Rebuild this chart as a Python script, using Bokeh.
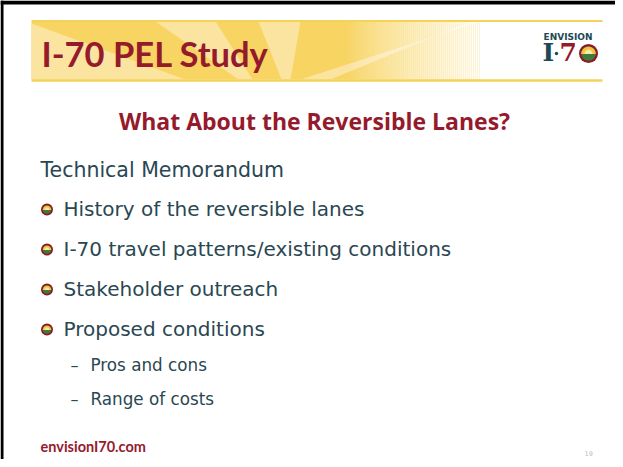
import numpy as np
from bokeh.plotting import figure
from bokeh.models import Range1d
from bokeh.core.properties import value
from bokeh.embed import file_html
from bokeh.resources import INLINE

# ---- slide content ----
title_text = ["I-70 PEL Study"]
subtitle_text = ["What About the Reversible Lanes?"]
intro_text = ["Technical Memorandum"]
bullet_texts = ["History of the reversible lanes",
                "I-70 travel patterns/existing conditions",
                "Stakeholder outreach",
                "Proposed conditions"]
sub_bullet_texts = ["Pros and cons", "Range of costs"]
footer_text = ["envisionI70.com"]
page_number = ["19"]
logo_word = ["ENVISION"]

# ---- colours ----
RED = "#951A2C"
BODY = "#2A4752"
TEAL = "#1D4955"
GOLD_DARK = "#F8D462"
GOLD_LIGHT = "#FBE4A0"
GOLD_LINE = "#F5D35A"
GREEN = "#3F7A3E"
SUN = "#F3C43F"
RING = "#8E1A26"

W, H = 615, 459

# measured vertical shift of the rendered alphabetic baseline, per font (fraction of size)
SHIFT = {"DejaVu Sans": 0.42, "DejaVu Serif": 0.42, "Lato": 0.5, "Open Sans": 0.38}

p = figure(width=W, height=H, x_range=Range1d(0, W), y_range=Range1d(H, 0),
           output_backend="svg", toolbar_location=None, min_border=0,
           x_axis_type=None, y_axis_type=None)
p.grid.visible = False
p.outline_line_color = None
p.background_fill_color = "white"
p.border_fill_color = "white"


def txt(x, base, text, font, size, color, bold=False, align="left"):
    y = [b - SHIFT[font] * size for b in base]
    p.text(x=x, y=y, text=text, text_font=value(font),
           text_font_style="bold" if bold else "normal",
           text_font_size=f"{size}px", text_color=color,
           text_baseline="alphabetic", text_align=align)


# slide frame (top / left)
p.quad(left=[0], right=[W], top=[0], bottom=[4], fill_color="black", line_color=None)
p.quad(left=[0], right=[3], top=[0], bottom=[H], fill_color="black", line_color=None)

# ---- header band ----
BL, BR, BT, BB, FADE0, FADE1 = 31, 602, 21, 79, 345, 480
p.quad(left=[BL], right=[FADE1], top=[BT], bottom=[BB], fill_color=GOLD_DARK, line_color=None)
stripe_xs = [[BL, BL, 185], [155, 215, 252, 238], [258, 300, 290, 281], [330, 470, 480, 300]]
stripe_ys = [[23, BB, BB], [BT, BT, BB, BB], [BT, BT, BB, BB], [BB, BT, BT, BB]]
p.patches(stripe_xs, stripe_ys, fill_color=GOLD_LIGHT, line_color=None)
fx = np.arange(FADE0, FADE1, 2.0)
p.quad(left=fx, right=fx + 2, top=BT, bottom=BB, fill_color="white",
       fill_alpha=np.clip((fx - FADE0) / (FADE1 - FADE0), 0, 1) ** 0.8, line_color=None)
p.segment(x0=[BL], y0=[BT - 0.5], x1=[BR], y1=[BT - 0.5], line_color=GOLD_LINE, line_width=2)
p.segment(x0=[BL], y0=[BB + 1], x1=[BR], y1=[BB + 1], line_color=GOLD_LINE, line_width=2.5)

txt([41], [70], title_text, "Lato", 34.5, RED, bold=True)

# ---- logo ----
txt([543], [40], logo_word, "DejaVu Sans", 9, TEAL, bold=True)
txt([542], [62], ["I"], "DejaVu Serif", 25, TEAL, bold=True)
p.circle(x=[556], y=[53], radius=1.7, fill_color=TEAL, line_color=None)
txt([559], [62], ["7"], "DejaVu Serif", 25, RED, bold=True)


def emblem(cx, cy, r, ring):
    t = np.linspace(0, np.pi, 30)
    p.circle(x=[cx], y=[cy], radius=r, fill_color=RING, line_color=None)
    ri = r - ring
    p.circle(x=[cx], y=[cy], radius=ri, fill_color=GREEN, line_color=None)
    p.patch(list(cx + ri * np.cos(t)), list(cy + 0.5 - ri * np.sin(t)), fill_color=SUN, line_color=None)
    p.patch(list(cx + 0.55 * ri * np.cos(t)), list(cy + 0.5 - 0.6 * ri * np.sin(t)),
            fill_color="#FBE7A6", line_color=None)


emblem(588, 53, 9.5, 2.2)

# ---- subtitle ----
txt([314], [129], subtitle_text, "Open Sans", 23, RED, bold=True, align="center")

# ---- body ----
BASE0, STEP = 178, 40
txt([40], [BASE0], intro_text, "DejaVu Sans", 20.5, BODY)
bys = [BASE0 + STEP * (i + 1) - 1 for i in range(len(bullet_texts))]
txt([63] * len(bullet_texts), bys, bullet_texts, "DejaVu Sans", 20, BODY)
for by in bys:
    emblem(46.5, by - 8, 6, 1.7)

SUB_STEP = 34
sys_ = [bys[-1] + 35 + SUB_STEP * i for i in range(len(sub_bullet_texts))]
txt([70] * len(sub_bullet_texts), sys_, ["–"] * len(sub_bullet_texts), "DejaVu Sans", 16, BODY)
txt([90] * len(sub_bullet_texts), sys_, sub_bullet_texts, "DejaVu Sans", 16.8, BODY)

# ---- footer ----
txt([40], [453], footer_text, "Lato", 14.5, RED, bold=True)
txt([584], [456], page_number, "DejaVu Sans", 6.5, "#BBBBBB")

open("out.html", "w").write(file_html(p, INLINE))
